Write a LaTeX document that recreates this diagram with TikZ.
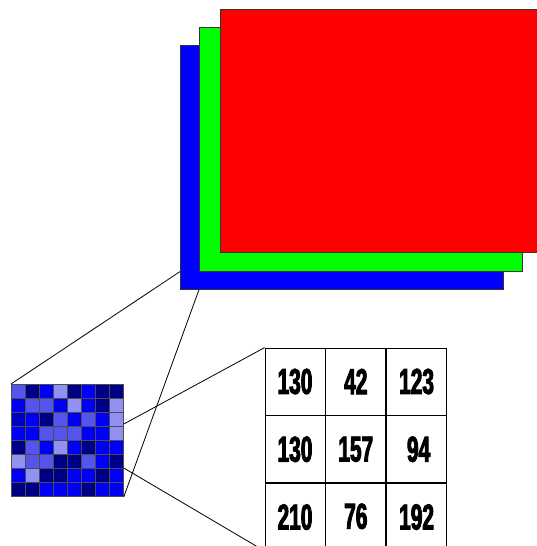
\documentclass[tikz,border=0pt]{standalone}
\usepackage{fontspec}
\newfontfamily\numfont[FakeStretch=0.58,FakeBold=2.5]{Liberation Sans}
\usetikzlibrary{positioning,calc}
\definecolor{pxD}{RGB}{0,0,135}
\definecolor{pxN}{RGB}{0,0,195}
\definecolor{pxB}{RGB}{0,0,245}
\definecolor{pxM}{RGB}{85,85,238}
\definecolor{pxL}{RGB}{145,145,242}
\definecolor{chR}{RGB}{255,0,0}
\definecolor{chG}{RGB}{0,255,0}
\definecolor{chB}{RGB}{0,0,255}

\begin{document}
\begin{tikzpicture}[x=1pt,y=-1pt,line width=0.8pt]
\tikzstyle{chan}=[draw=black!80,line width=0.6pt,anchor=north west,minimum width=323pt,minimum height=244pt,inner sep=0pt]
\tikzstyle{val}=[draw,minimum width=60pt,minimum height=67pt,inner sep=0pt,font=\numfont\bfseries\fontsize{36}{36}\selectfont]
\useasboundingbox[fill=white] (0,0) rectangle (536,546);
% colour planes
\node[chan,fill=chB] (blue) at (180,45) {};
\node[chan,fill=chG] (green) at (199,27) {};
\node[chan,fill=chR,minimum width=340pt,minimum height=243pt] (red) at (220,9) {};
% pixel patch
\node[anchor=north west,minimum size=112pt,inner sep=0pt] (patch) at (11,384) {};
\foreach \row [count=\r] in {{M,D,B,L,D,B,D,D},{B,M,M,B,L,B,D,L},{N,B,D,M,B,M,B,L},{B,B,M,M,M,B,B,L},{D,M,B,L,B,D,B,B},{L,M,M,D,D,M,B,D},{B,L,D,D,B,B,D,B},{D,D,B,B,B,D,B,B}}
  \foreach \c [count=\k] in \row
    \filldraw[fill=px\c,draw=black!70,line width=0.5pt] ($(patch.north west)+(\k*14-14,\r*14-14)$) rectangle +(14,14);
% values
\node[val] (v11) at (295,381.5) {130};
\node[val,right=0pt of v11] (v12) {42};
\node[val,right=0pt of v12] (v13) {123};
\node[val,below=0pt of v11] (v21) {130};
\node[val,right=0pt of v21] (v22) {157};
\node[val,right=0pt of v22] (v23) {\raisebox{-4pt}{\hspace{4pt}94}};
\node[val,below=0pt of v21] (v31) {210};
\node[val,right=0pt of v31] (v32) {\raisebox{2pt}{76}};
\node[val,right=0pt of v32] (v33) {\raisebox{-3pt}{192}};
% zoom lines
\draw (patch.north west) -- (blue.south west |- green.south west);
\draw (patch.south east) -- (green.south west |- blue.south west);
\draw ($(patch.north east)+(0,40)$) -- (v11.north west);
\draw ($(patch.north east)+(0,84)$) -- (v31.south west);
\end{tikzpicture}
\end{document}
